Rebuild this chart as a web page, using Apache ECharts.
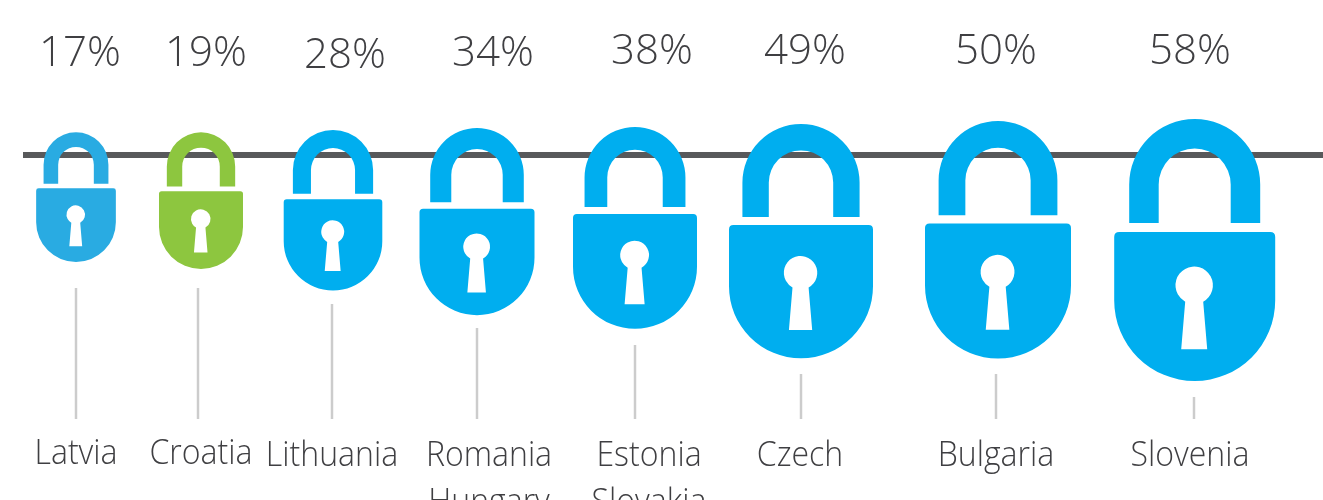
<!DOCTYPE html>
<html>
<head>
<meta charset="utf-8">
<title>Padlocks</title>
<style>
    html, body { margin: 0; padding: 0; background: #fff; overflow: hidden; }
    #main { width: 1323px; height: 500px; }
</style>
<script src="https://cdn.jsdelivr.net/npm/echarts@6/dist/echarts.min.js"></script>
</head>
<body>
<div id="main"></div>
<script>
// values
var countries = ['Latvia', 'Croatia', 'Lithuania', 'Romania\nHungary', 'Estonia\nSlovakia', 'Czech', 'Bulgaria', 'Slovenia'];
var shares = [17, 19, 28, 34, 38, 49, 50, 58];

// layout, in axis units (same as page pixels)
var lockX = [76, 201, 333, 477, 635, 801, 998, 1194.7];
var lockTop = [132.3, 132.3, 130, 128, 127, 124, 121, 119];
var lockWidth = [79.7, 84, 98.6, 115, 124, 144, 146, 161];
var leaderX = [76, 198, 332, 477, 635, 801, 996, 1194];
var leaderTop = [288, 288, 304, 328, 345, 374, 374, 397];
var shareX = [80, 206, 345, 493, 652, 805, 996, 1190];
var shareY = [54, 54, 56, 54, 52, 52, 52, 52];
var nameX = [76, 201, 332, 489, 649, 800, 996, 1190];
var nameY = [454, 454, 456, 456, 456, 456, 456, 456];
var lockColor = ['#29abe2', '#8dc63f', '#00aeef', '#00aeef', '#00aeef', '#00aeef', '#00aeef', '#00aeef'];

var LOCK_W = 161, LOCK_H = 262;
// shackle, body, keyhole (keyhole wound the other way so it stays open)
var lockPath = 'M15 104V65.5A65.5 65.5 0 0 1 146 65.5V104H116.5V65.5A36 36 0 0 0 44.5 65.5V104Z' +
    'M5 113H156Q161 113 161 118V181.5A80.5 80.5 0 0 1 0 181.5V118Q0 113 5 113Z' +
    'M71 182.7L67 230.3H93L89 182.7A18.7 18.7 0 1 0 71 182.7Z';

var font = '"Open Sans", sans-serif';

function renderLock(params, api) {
    var i = params.dataIndex;
    var top = api.coord([api.value(0), api.value(1)]);
    var w = api.size([api.value(2), 0])[0];
    var h = w * LOCK_H / LOCK_W;
    var leaderA = api.coord([leaderX[i], leaderTop[i]]);
    var leaderB = api.coord([leaderX[i], 419]);
    var sharePos = api.coord([shareX[i], shareY[i]]);
    var namePos = api.coord([nameX[i], nameY[i]]);
    return {
        type: 'group',
        children: [
            {
                type: 'path',
                shape: { pathData: lockPath, x: top[0] - w / 2, y: top[1], width: w, height: h, layout: 'cover' },
                style: { fill: lockColor[i] }
            },
            {
                type: 'line',
                shape: { x1: leaderA[0], y1: leaderA[1], x2: leaderB[0], y2: leaderB[1] },
                style: { stroke: '#cccccc', lineWidth: 2.5 }
            },
            {
                type: 'text',
                x: sharePos[0],
                y: sharePos[1],
                style: {
                    text: shares[i] + '%', fill: '#3f3f42',
                    fontFamily: font, fontWeight: 300, fontSize: 42, align: 'center', verticalAlign: 'middle'
                }
            },
            {
                type: 'text',
                x: namePos[0],
                y: namePos[1] - 23.5,
                scaleX: 0.915,
                style: {
                    text: countries[i], fill: '#3f3f42',
                    fontFamily: font, fontWeight: 300, fontSize: 35, lineHeight: 47, align: 'center', verticalAlign: 'top'
                }
            }
        ]
    };
}

var lockData = [];
for (var i = 0; i < countries.length; i++) {
    lockData.push([lockX[i], lockTop[i], lockWidth[i]]);
}

var myChart = echarts.init(document.getElementById('main'));
myChart.setOption({
    animation: false,
    backgroundColor: '#fff',
    grid: { left: 0, right: 0, top: 0, bottom: 0 },
    xAxis: { type: 'value', min: 0, max: 1323, show: false },
    yAxis: { type: 'value', min: 0, max: 500, inverse: true, show: false },
    series: [
        {
            type: 'line',
            data: [[23, 155], [1323, 155]],
            symbol: 'none',
            silent: true,
            z: 1,
            lineStyle: { color: '#58595b', width: 6 }
        },
        {
            type: 'custom',
            data: lockData,
            renderItem: renderLock,
            clip: false,
            silent: true,
            z: 2
        }
    ]
});
</script>
</body>
</html>
